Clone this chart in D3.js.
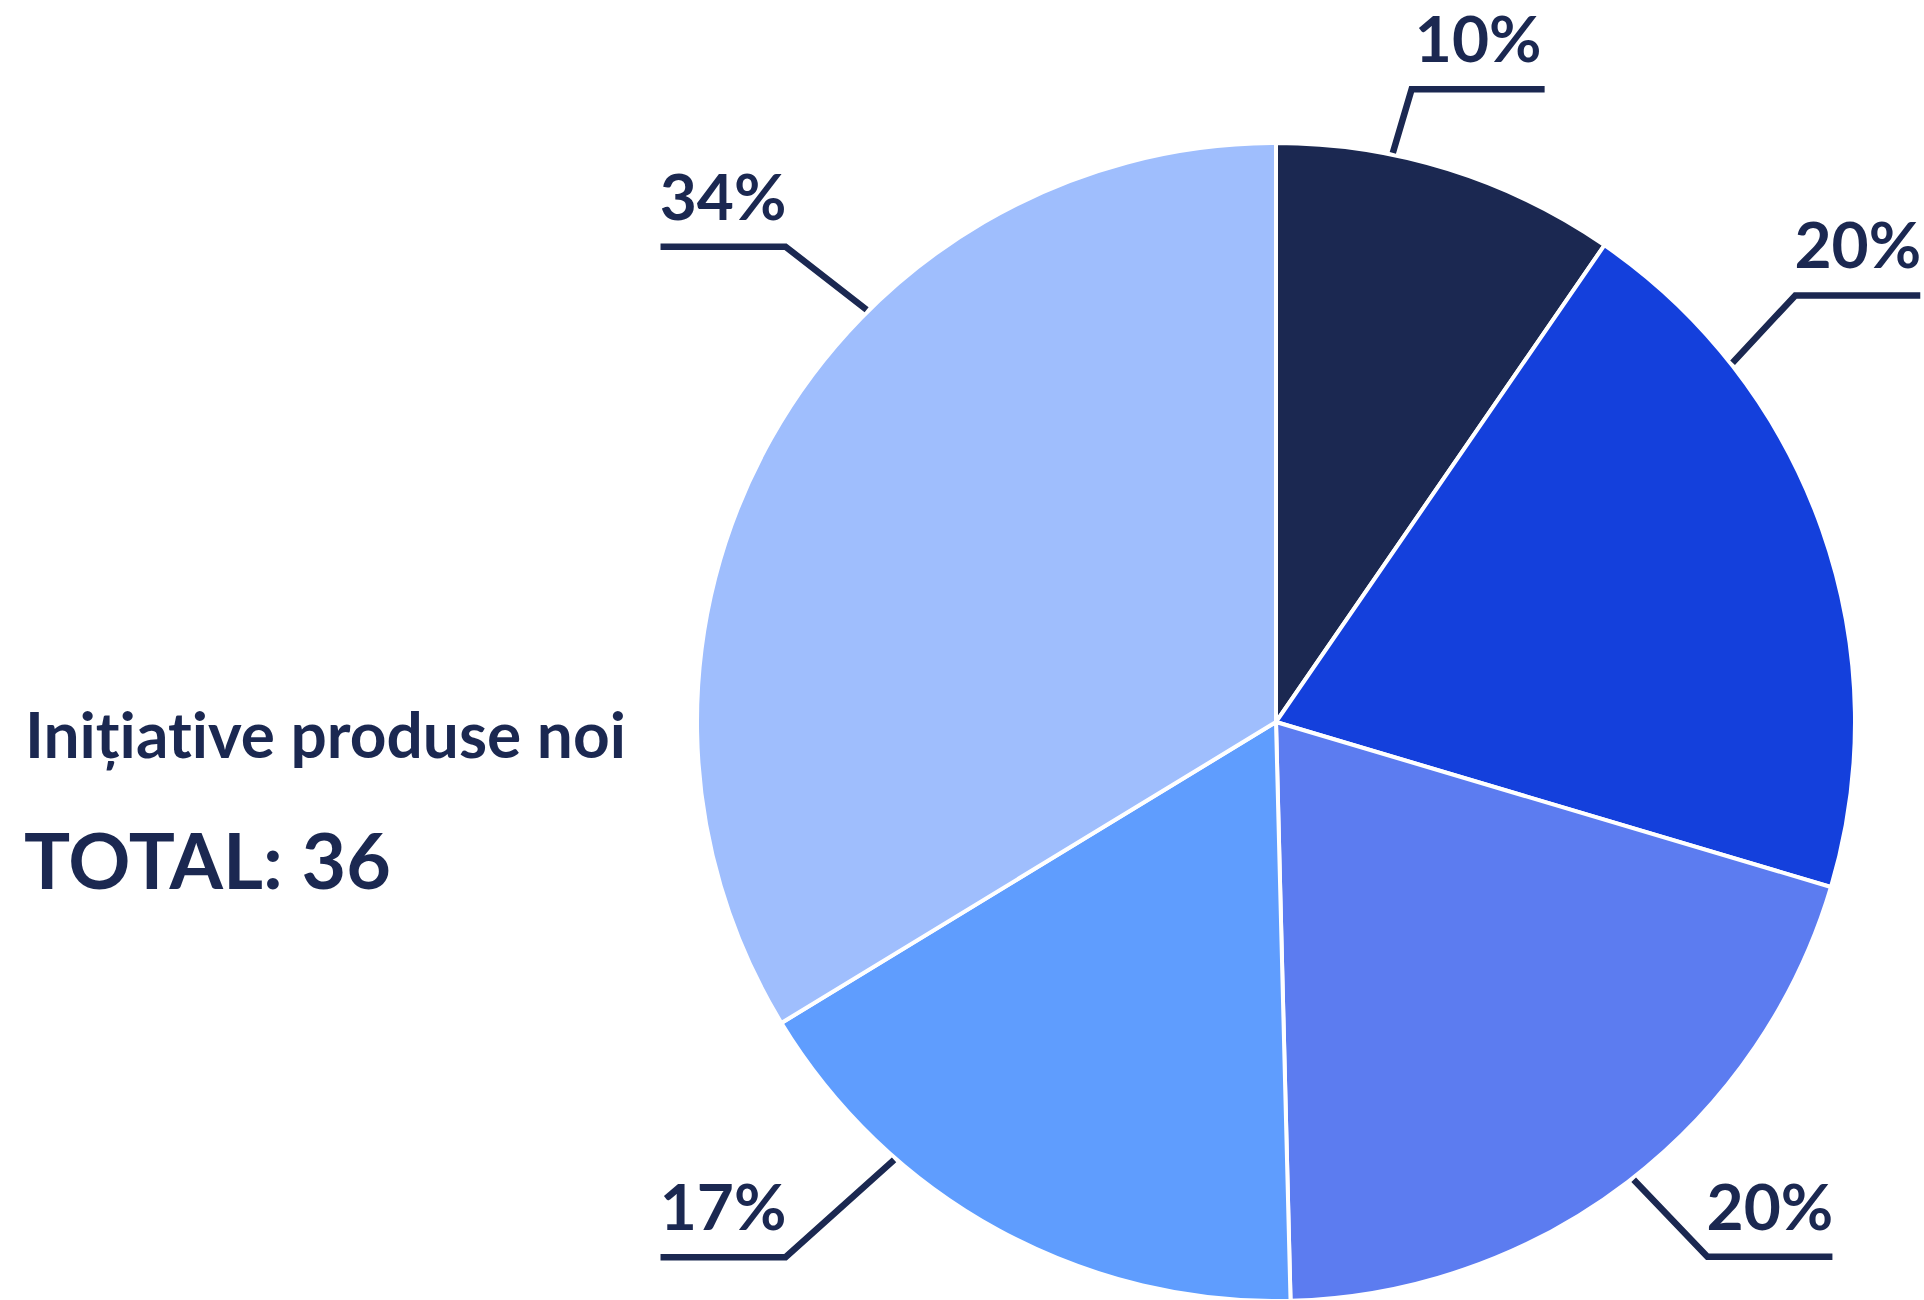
<!DOCTYPE html>
<html>
<head>
<meta charset="utf-8">
<script src="https://cdn.jsdelivr.net/npm/d3@7"></script>
<style>
  html, body { margin: 0; padding: 0; background: #ffffff; }
  svg { display: block; }
  text { font-family: Lato, "Open Sans", sans-serif; font-weight: 700; fill: #1b2851;
         font-variant-ligatures: none; font-feature-settings: "liga" 0, "clig" 0; }
</style>
</head>
<body>
<svg id="chart" width="1924" height="1300"></svg>
<script>
// ---- data ----
const categories = ["A", "B", "C", "D", "E"];
const values = [9.6, 20, 20, 16.7, 33.7];
const labels = ["10%", "20%", "20%", "17%", "34%"];
const colors = ["#1b2851", "#1440dc", "#5c7cf0", "#5f9dfe", "#9fbefd"];
const titleText = "Inițiative produse noi";
const totalText = "TOTAL: 36";

// ---- layout ----
const W = 1924, H = 1300;
const cx = 1276, cy = 722, R = 579;
const ink = "#1b2851";
// leader line geometry (degrees clockwise from 12 o'clock, radii in px)
const leaderStartAngle = [11.6, 51.8, 142.0, 221.1, 315.2];
const leaderElbowAngle = [12.1, 50.6, 141.1, 222.5, 314.1];
const leaderElbowRadius = [647, 672, 687, 726, 683];
const leaderStartRadius = 581;
const leaderRun = [133, 125, 125, 125, 125];

const svg = d3.select("#chart");
const g = svg.append("g").attr("transform", `translate(${cx},${cy})`);

const pie = d3.pie().sort(null).value(d => d.value);
const arc = d3.arc().innerRadius(0).outerRadius(R);
const data = categories.map((c, i) => ({ cat: c, value: values[i], label: labels[i], color: colors[i] }));
const arcs = pie(data);

g.selectAll("path.slice")
  .data(arcs)
  .enter().append("path")
  .attr("class", "slice")
  .attr("d", arc)
  .attr("fill", d => d.data.color)
  .attr("stroke", "#ffffff")
  .attr("stroke-width", 4)
  .attr("stroke-linejoin", "miter");

const rad = deg => deg * Math.PI / 180;
const polar = (a, r) => [r * Math.sin(rad(a)), -r * Math.cos(rad(a))];

arcs.forEach((d, i) => {
  const p0 = polar(leaderStartAngle[i], leaderStartRadius);
  const p1 = polar(leaderElbowAngle[i], leaderElbowRadius[i]);
  const dir = Math.sin(rad(leaderElbowAngle[i])) >= 0 ? 1 : -1;
  const p2 = [p1[0] + dir * leaderRun[i], p1[1]];
  g.append("path")
    .attr("d", d3.line()([p0, p1, p2]))
    .attr("fill", "none")
    .attr("stroke", ink)
    .attr("stroke-width", 6.5)
    .attr("stroke-linejoin", "miter");
  g.append("text")
    .attr("x", (p1[0] + p2[0]) / 2)
    .attr("y", p1[1] - 27)
    .attr("text-anchor", "middle")
    .attr("font-size", 64)
    .text(d.data.label);
});

svg.append("text")
  .attr("x", 25)
  .attr("y", 758)
  .attr("font-size", 64)
  .text(titleText);

svg.append("text")
  .attr("x", 24)
  .attr("y", 889)
  .attr("font-size", 77)
  .text(totalText);
</script>
</body>
</html>
